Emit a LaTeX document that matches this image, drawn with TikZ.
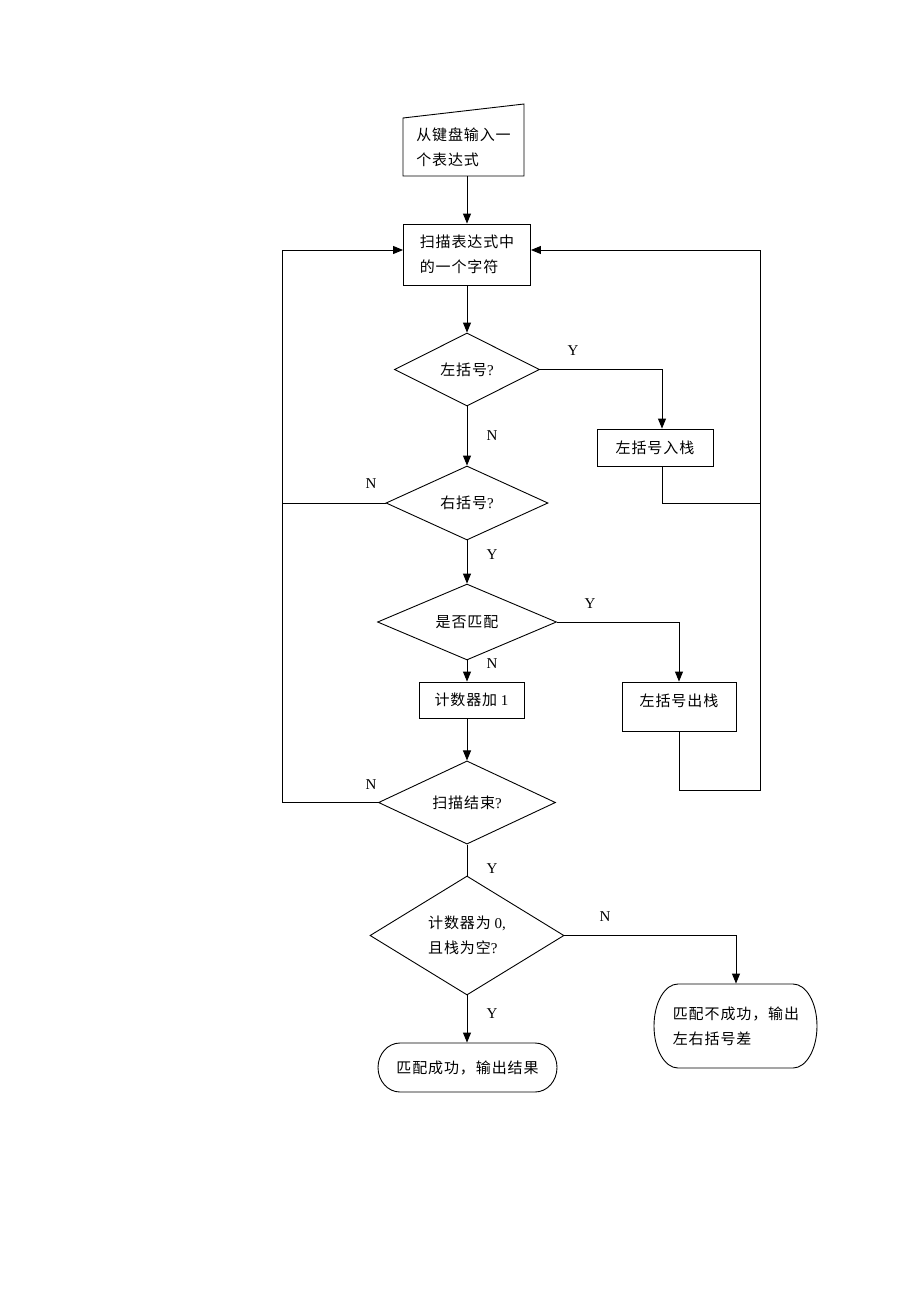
\documentclass[tikz,border=0pt]{standalone}
\usepackage{fontspec}
\setmainfont{Liberation Serif}
\newfontfamily\cjk[LetterSpace=6]{Noto Sans CJK SC}
\newcommand\zh[1]{{\cjk #1}}
\usetikzlibrary{shapes.geometric,arrows.meta}
\begin{document}
\begin{tikzpicture}[x=1pt,y=-1pt,line width=0.9pt,
  >={Triangle[length=10pt,width=8pt]},
  every node/.style={font=\fontsize{15}{25}\selectfont},
  boxn/.style={draw,rectangle,inner sep=0pt,align=left},
  dia/.style={draw,diamond,inner sep=0pt,align=left},
  lbl/.style={inner sep=0pt},
  txt/.style={inner sep=0pt,align=left}]
\useasboundingbox (0,0) rectangle (920,1302);

% input (manual input shape)
\draw (403,118) -- (524,104) -- (524,176) -- (403,176) -- cycle;
\node[txt,minimum width=121,minimum height=58] (inp) at (463.5,147) {\zh{从键盘输入一}\\\zh{个表达式}};

\node[boxn,minimum width=127,minimum height=61] (scan) at (467,254.5) {\zh{扫描表达式中}\\\zh{的一个字符}};
\node[dia,minimum width=145,minimum height=73] (d1) at (467,369.5) {\zh{左括号}?};
\node[boxn,minimum width=116,minimum height=37] (push) at (655,447.5) {\zh{左括号入栈}};
\node[dia,minimum width=162,minimum height=74] (d2) at (467,503) {\zh{右括号}?};
\node[dia,minimum width=179,minimum height=72] (d3) at (467,622) {\zh{是否匹配}};
\node[boxn,minimum width=114,minimum height=49] (pop) at (679,706.5) {};
\node[txt] (poptxt) at (679,701) {\zh{左括号出栈}};
\node[boxn,minimum width=105,minimum height=36] (cnt) at (471.5,700) {\zh{计数器加} 1};
\node[dia,minimum width=177,minimum height=71] (d4) at (467,802.5) {\zh{扫描结束}?};
\node[dia,minimum width=194,minimum height=119] (d5) at (467,935.5) {\zh{计数器为} 0,\\\zh{且栈为空}?};

% terminals
\draw (400,1043) -- (535,1043) .. controls (547.2,1043) and (557,1054) .. (557,1067.5)
      .. controls (557,1081) and (547.2,1092) .. (535,1092) -- (400,1092)
      .. controls (387.8,1092) and (378,1081) .. (378,1067.5)
      .. controls (378,1054) and (387.8,1043) .. (400,1043) -- cycle;
\node[txt,minimum width=179,minimum height=49] (ok) at (467.5,1067.5) {\zh{匹配成功，输出结果}};

\draw (678,984) -- (793,984) .. controls (806.3,984) and (817,1002.8) .. (817,1026)
      .. controls (817,1049.2) and (806.3,1068) .. (793,1068) -- (678,1068)
      .. controls (664.7,1068) and (654,1049.2) .. (654,1026)
      .. controls (654,1002.8) and (664.7,984) .. (678,984) -- cycle;
\node[txt,minimum width=163,minimum height=84] (fail) at (736,1026) {\zh{匹配不成功，输出}\\\zh{左右括号差}};

% helper coordinates
\coordinate (lx) at (282,0);
\coordinate (rx) at (760,0);
\coordinate (sL) at ([yshift=4.5pt]scan.west);
\coordinate (sR) at ([yshift=4.5pt]scan.east);
\coordinate (pushin) at ([xshift=7pt]push.north);
\coordinate (pushout) at ([xshift=7pt]push.south);
\coordinate (popy) at (0,790);

% connectors
\draw[->] (inp.south -| scan.north) -- (scan.north);
\draw[->] (scan.south) -- (d1.north);
\draw[->] (d1.east) -| (pushin);
\draw[->] (d1.south) -- (d2.north);
\draw[->] (d2.west) -- (d2.west -| lx) -- (lx |- sL) -- (sL);
\draw (pushout) |- (rx |- d2.east);
\draw[->] (pop.south) |- (rx |- popy) -- (rx |- sR) -- (sR);
\draw[->] (d2.south) -- (d3.north);
\draw[->] (d3.east) -| (pop.north);
\draw[->] (d3.south) -- (d3.south |- cnt.north);
\draw[->] (d4.north |- cnt.south) -- (d4.north);
\draw (d4.west) -- (d4.west -| lx) -- (lx |- sL);
\draw (d4.south) -- (d5.north);
\draw[->] (d5.east) -| (fail.north);
\draw[->] (d5.south) -- (d5.south |- ok.north);

% labels
\node[lbl] (y1) at (573,351) {Y};
\node[lbl] (n1) at (492,436) {N};
\node[lbl] (n2) at (371,484) {N};
\node[lbl] (y2) at (492,555) {Y};
\node[lbl] (y3) at (590,604) {Y};
\node[lbl] (n3) at (492,664) {N};
\node[lbl] (n4) at (371,785) {N};
\node[lbl] (y4) at (492,869) {Y};
\node[lbl] (n5) at (605,917) {N};
\node[lbl] (y5) at (492,1014) {Y};
\end{tikzpicture}
\end{document}
